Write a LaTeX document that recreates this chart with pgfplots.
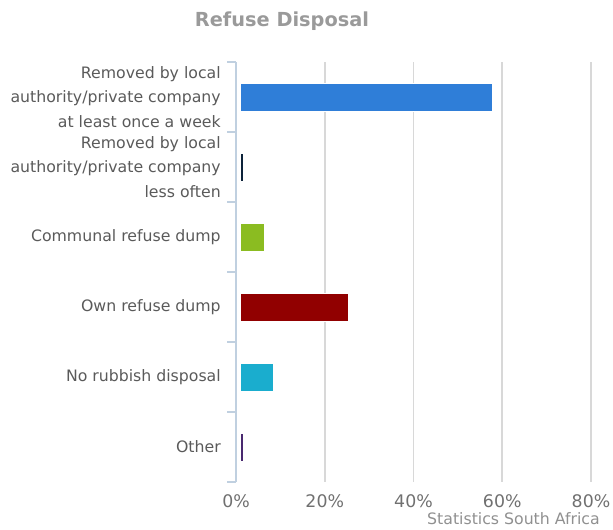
\documentclass[border=0pt]{standalone}
\usepackage{pgfplots}
\pgfplotsset{compat=1.18}
\usepackage{fontspec}
\setmainfont{DejaVu Sans}
\definecolor{axisblue}{HTML}{C0D0E0}
\definecolor{gridgray}{HTML}{D8D8D8}
\definecolor{labelgray}{HTML}{5A5A5A}
\definecolor{tickgray}{HTML}{707070}
\definecolor{titlegray}{HTML}{9A9A9A}
\definecolor{creditgray}{HTML}{909090}
\definecolor{c1}{HTML}{2F7ED8}
\definecolor{c2}{HTML}{0D233A}
\definecolor{c3}{HTML}{8BBC21}
\definecolor{c4}{HTML}{910000}
\definecolor{c5}{HTML}{1AADCE}
\definecolor{c6}{HTML}{492970}
\begin{document}
\begin{tikzpicture}
\useasboundingbox (0,0) rectangle (459.75pt,396.75pt);
\begin{axis}[
  at={(177pt,35.25pt)}, anchor=south west,
  scale only axis, width=266.25pt, height=315pt,
  xbar, bar width=21pt, bar shift=0pt,
  xmin=0, xmax=80, ymin=-0.5, ymax=5.5, y dir=reverse,
  axis lines*=left,
  x axis line style={-, draw=none},
  y axis line style={-, draw=axisblue, line width=1.1pt},
  xtick={0,20,40,60,80},
  xticklabels={0\%,20\%,40\%,60\%,80\%},
  xtick style={draw=none},
  xticklabel style={font=\fontsize{13}{13}\selectfont, text=tickgray, inner sep=0pt, yshift=-9pt},
  xmajorgrids, grid style={color=gridgray, line width=1.4pt},
  major tick length=0pt,
  ytick={0,1,2,3,4,5},
  yticklabels={{Removed by local\\authority/private company\\at least once a week},
               {Removed by local\\authority/private company\\less often},
               {Communal refuse dump},
               {Own refuse dump},
               {No rubbish disposal},
               {Other}},
  ytick style={draw=axisblue, line width=1.1pt},
  yticklabel style={align=right, font=\fontsize{11.8}{18.4}\selectfont, text=labelgray, inner sep=0pt, xshift=-11.25pt},
  extra y ticks={-0.5,0.5,1.5,2.5,3.5,4.5,5.5},
  extra y tick labels={},
  extra y tick style={major tick length=6.75pt, tick align=outside},
]
\addplot[fill=c1, draw=white, line width=0.5pt, xshift=3pt] coordinates {(56.8,0)};
\addplot[fill=c2, draw=white, line width=0.5pt, xshift=3pt] coordinates {(0.8,1)};
\addplot[fill=c3, draw=white, line width=0.5pt, xshift=3pt] coordinates {(5.4,2)};
\addplot[fill=c4, draw=white, line width=0.5pt, xshift=3pt] coordinates {(24.4,3)};
\addplot[fill=c5, draw=white, line width=0.5pt, xshift=3pt] coordinates {(7.5,4)};
\addplot[fill=c6, draw=white, line width=0.5pt, xshift=3pt] coordinates {(0.7,5)};
\end{axis}
\node[font=\fontsize{14.5}{14.5}\selectfont\bfseries, text=titlegray] at (211.5pt,380.5pt) {Refuse Disposal};
\node[anchor=east, inner sep=0pt, font=\fontsize{11.8}{12}\selectfont, text=creditgray] at (450pt,7.5pt) {Statistics South Africa};
\end{tikzpicture}
\end{document}
